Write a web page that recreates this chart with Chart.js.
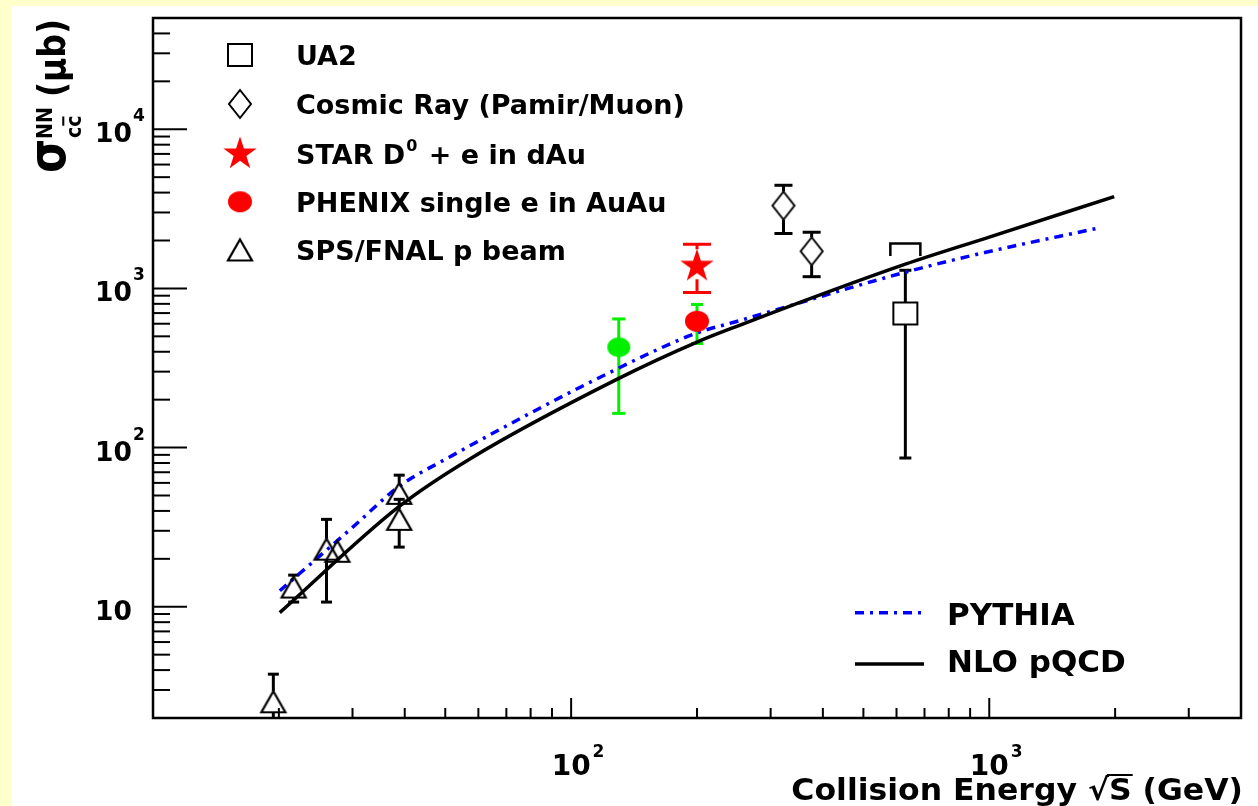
<!DOCTYPE html>
<html>
<head>
<meta charset="utf-8">
<script src="https://cdn.jsdelivr.net/npm/chart.js@4.4.1/dist/chart.umd.min.js"></script>
<style>
  html, body { margin: 0; padding: 0; background: #ffffff; overflow: hidden; }
  canvas { display: block; }
</style>
</head>
<body>
<canvas id="c" width="1258" height="806"></canvas>
<script>
// Charm production cross section per NN collision versus collision energy (sqrt s, GeV; sigma in microbarn)

// UA2 (p pbar)
const ua2Energy = [630];
const ua2Sigma = [696];
const ua2Low = [86];
const ua2High = [1300];
const ua2SysHigh = [1914];

// Cosmic ray (Pamir / Muon)
const cosmicEnergy = [322, 376];
const cosmicSigma = [3315, 1712];
const cosmicLow = [2213, 1185];
const cosmicHigh = [4446, 2254];

// STAR D0 + e in dAu
const starEnergy = [200];
const starSigma = [1377];
const starLow = [943];
const starHigh = [1894];

// PHENIX single e in AuAu, 200 GeV
const phenixEnergy = [200];
const phenixSigma = [622];
const phenixLow = [451];
const phenixHigh = [793];

// PHENIX single e in AuAu, 130 GeV
const phenix130Energy = [130];
const phenix130Sigma = [427];
const phenix130Low = [164];
const phenix130High = [643];

// SPS / FNAL p beam
const spsEnergy = [19.4, 21.7, 26.0, 27.6, 38.8, 38.8];
const spsSigma = [2.53, 13.3, 23.0, 22.3, 51.6, 35.4];
const spsLow = [1.5, 10.7, 10.7, 21.0, 47.3, 23.7];
const spsHigh = [3.77, 15.8, 35.4, 23.6, 67.1, 47.3];

// Theory curves
const nloEnergy = [20.1, 38.8, 57, 130, 200, 250, 630, 1000, 1990];
const nloSigma = [9.19, 42.7, 84.3, 272, 460, 580, 1420, 2102, 3776];
const pythiaEnergy = [20.1, 30, 38.8, 50, 130, 200, 250, 630, 975, 1800];
const pythiaSigma = [12.6, 31.5, 57.1, 84.3, 316, 525, 622, 1264, 1680, 2377];

// Axis labels
const yTickValues = [10, 100, 1000, 10000];
const yTickExponents = ['', '2', '3', '4'];
const xTickValues = [100, 1000];
const xTickExponents = ['2', '3'];
const xTitle = ['Collision Energy ', '\u221A', 'S', ' (GeV)'];
const yTitle = ['\u03C3', 'NN', 'cc', '(\u03BCb)'];

const FONT = '"DejaVu Sans", "Liberation Sans", sans-serif';
const font = (px) => 'bold ' + px + 'px ' + FONT;
const pts = (xs, ys) => xs.map((x, i) => ({ x: x, y: ys[i] }));

// ---- marker images ----
function markerCanvas(w, h, draw) {
  const c = document.createElement('canvas');
  c.width = Math.ceil(w + 6);
  c.height = Math.ceil(h + 6);
  const g = c.getContext('2d');
  g.translate(c.width / 2, c.height / 2);
  draw(g, w / 2, h / 2);
  return c;
}
const markers = {
  square: markerCanvas(24, 22, (g, hw, hh) => {
    g.strokeStyle = '#000'; g.lineWidth = 2;
    g.strokeRect(-hw, -hh, 2 * hw, 2 * hh);
  }),
  diamond: markerCanvas(22, 28, (g, hw, hh) => {
    g.strokeStyle = '#000'; g.lineWidth = 2; g.lineJoin = 'miter';
    g.beginPath(); g.moveTo(0, -hh); g.lineTo(hw, 0); g.lineTo(0, hh); g.lineTo(-hw, 0); g.closePath(); g.stroke();
  }),
  triangle: markerCanvas(24, 21, (g, hw, hh) => {
    g.strokeStyle = '#000'; g.lineWidth = 2.2; g.lineJoin = 'miter';
    g.beginPath(); g.moveTo(0, -hh); g.lineTo(hw, hh); g.lineTo(-hw, hh); g.closePath(); g.stroke();
  }),
  redDot: markerCanvas(24, 21, (g, hw, hh) => {
    g.fillStyle = '#ff0000';
    g.beginPath(); g.ellipse(0, 0, hw, hh, 0, 0, Math.PI * 2); g.fill();
  }),
  greenDot: markerCanvas(23, 20, (g, hw, hh) => {
    g.fillStyle = '#00f000';
    g.beginPath(); g.ellipse(0, 0, hw, hh, 0, 0, Math.PI * 2); g.fill();
  }),
  star: markerCanvas(36, 36, (g) => {
    const R = 17.5, r = R * 0.382;
    g.fillStyle = '#ff0000';
    g.beginPath();
    for (let i = 0; i < 10; i++) {
      const rad = (i % 2 === 0) ? R : r;
      const ang = -Math.PI / 2 + i * Math.PI / 5;
      const px = rad * Math.cos(ang), py = rad * Math.sin(ang);
      if (i === 0) g.moveTo(px, py); else g.lineTo(px, py);
    }
    g.closePath(); g.fill();
  })
};

// ---- error bar sets ----
const errorSets = [
  { xs: spsEnergy, ys: spsSigma, lo: spsLow, hi: spsHigh, color: '#000', cap: 5.5, gapUp: 10.5, gapDown: 10.5 },
  { xs: ua2Energy, ys: ua2Sigma, lo: ua2Low, hi: ua2High, color: '#000', cap: 6, gapUp: 11, gapDown: 11 },
  { xs: cosmicEnergy, ys: cosmicSigma, lo: cosmicLow, hi: cosmicHigh, color: '#000', cap: 9, gapUp: 14, gapDown: 14 },
  { xs: starEnergy, ys: starSigma, lo: starLow, hi: starHigh, color: '#ff0000', cap: 14, gapUp: 17, gapDown: 13 },
  { xs: phenixEnergy, ys: phenixSigma, lo: phenixLow, hi: phenixHigh, color: '#00f000', cap: 6, gapUp: 0, gapDown: 0 },
  { xs: phenix130Energy, ys: phenix130Sigma, lo: phenix130Low, hi: phenix130High, color: '#00f000', cap: 6.5, gapUp: 0, gapDown: 0 }
];

function line(ctx, x1, y1, x2, y2) {
  ctx.beginPath(); ctx.moveTo(x1, y1); ctx.lineTo(x2, y2); ctx.stroke();
}

// text made of pieces: {t, size, dy, after}
function drawPieces(ctx, pieces, x, baseline) {
  let cx = x;
  pieces.forEach(p => {
    ctx.font = font(p.size);
    ctx.fillText(p.t, cx, baseline + (p.dy || 0));
    cx += ctx.measureText(p.t).width + (p.after || 0);
  });
  return cx;
}

const decor = {
  id: 'decor',
  beforeDraw(chart) {
    const { ctx, width, height } = chart;
    ctx.save();
    ctx.fillStyle = '#ffffff';
    ctx.fillRect(0, 0, width, height);
    ctx.fillStyle = '#ffffcc';
    ctx.fillRect(0, 0, 11, height);
    ctx.fillRect(0, 0, width, 6);
    ctx.restore();
  },
  beforeDatasetsDraw(chart) {
    const { ctx, chartArea: a } = chart;
    const sx = chart.scales.x, sy = chart.scales.y;
    ctx.save();
    ctx.beginPath(); ctx.rect(a.left, a.top, a.right - a.left, a.bottom - a.top); ctx.clip();
    ctx.lineWidth = 3; ctx.lineCap = 'butt';
    errorSets.forEach(s => {
      ctx.strokeStyle = s.color;
      s.xs.forEach((xv, i) => {
        const px = sx.getPixelForValue(xv);
        const py = sy.getPixelForValue(s.ys[i]);
        const ph = sy.getPixelForValue(s.hi[i]);
        const pl = sy.getPixelForValue(s.lo[i]);
        if (ph < py - s.gapUp) {
          line(ctx, px, py - s.gapUp, px, ph);
          line(ctx, px - s.cap, ph, px + s.cap, ph);
        }
        if (pl > py + s.gapDown) {
          line(ctx, px, py + s.gapDown, px, pl);
          line(ctx, px - s.cap, pl, px + s.cap, pl);
        }
      });
    });
    // UA2 systematic bracket
    ctx.strokeStyle = '#000'; ctx.lineWidth = 2.5;
    ua2Energy.forEach((xv, i) => {
      const px = sx.getPixelForValue(xv);
      const ps = sy.getPixelForValue(ua2SysHigh[i]);
      ctx.beginPath();
      ctx.moveTo(px - 15, ps + 12.5); ctx.lineTo(px - 15, ps); ctx.lineTo(px + 15, ps); ctx.lineTo(px + 15, ps + 12.5);
      ctx.stroke();
    });
    ctx.restore();
  },
  afterDatasetsDraw(chart) {
    const { ctx, chartArea: a } = chart;
    const sx = chart.scales.x, sy = chart.scales.y;
    ctx.save();
    ctx.fillStyle = '#000'; ctx.strokeStyle = '#000';

    // frame
    ctx.lineWidth = 2.5;
    ctx.strokeRect(a.left, a.top, a.right - a.left, a.bottom - a.top);

    // y ticks (inside, left)
    ctx.lineWidth = 2;
    for (let e = 0; e <= 4; e++) {
      for (let k = 1; k <= 9; k++) {
        const v = k * Math.pow(10, e);
        if (v <= sy.min || v >= sy.max) continue;
        const py = sy.getPixelForValue(v);
        line(ctx, a.left, py, a.left + (k === 1 ? 34 : 17), py);
      }
    }
    // x ticks (inside, bottom)
    for (let e = 1; e <= 3; e++) {
      for (let k = 1; k <= 9; k++) {
        const v = k * Math.pow(10, e);
        if (v <= sx.min || v >= sx.max) continue;
        const px = sx.getPixelForValue(v);
        line(ctx, px, a.bottom, px, a.bottom - (k === 1 ? 20 : 10));
      }
    }

    // y tick labels
    ctx.textAlign = 'left'; ctx.textBaseline = 'alphabetic';
    yTickValues.forEach((v, i) => {
      const py = sy.getPixelForValue(v);
      ctx.font = font(26.5);
      ctx.fillText('10', 95, py + 13);
      const w = ctx.measureText('10').width;
      if (yTickExponents[i]) {
        ctx.font = font(17);
        ctx.fillText(yTickExponents[i], 95 + w + 1, py - 8);
      }
    });
    // x tick labels
    xTickValues.forEach((v, i) => {
      const px = sx.getPixelForValue(v);
      ctx.font = font(28);
      const w = ctx.measureText('10').width;
      ctx.fillText('10', px - w / 2, 775);
      ctx.font = font(17);
      ctx.fillText(xTickExponents[i], px + w / 2 + 2, 757);
    });

    // x title, right-aligned, slightly widened
    ctx.save();
    ctx.translate(1243, 800);
    ctx.scale(1.05, 1);
    ctx.font = font(30);
    const tw = xTitle.reduce((s, t) => s + ctx.measureText(t).width, 0);
    let tx = -tw;
    ctx.fillText(xTitle[0], tx, 0); tx += ctx.measureText(xTitle[0]).width;
    const sq = ctx.measureText(xTitle[1]);
    ctx.fillText(xTitle[1], tx, 0);
    const sqTop = -sq.actualBoundingBoxAscent;
    const sqEnd = tx + sq.width;
    tx = sqEnd;
    ctx.fillText(xTitle[2], tx, 0);
    const sEnd = tx + ctx.measureText(xTitle[2]).width;
    ctx.lineWidth = 2;
    line(ctx, sqEnd - 2, sqTop + 1, sEnd + 1, sqTop + 1);
    tx = sEnd;
    ctx.fillText(xTitle[3], tx, 0);
    ctx.restore();

    // y title, rotated and slightly widened
    ctx.save();
    ctx.translate(65, 173);
    ctx.scale(1.15, 1);
    ctx.rotate(-Math.PI / 2);
    ctx.font = font(44);
    ctx.fillText(yTitle[0], 0, 0);
    ctx.font = font(19);
    ctx.fillText(yTitle[1], 34, -11.5);
    ctx.fillText(yTitle[2], 35, 13.5);
    const cw = ctx.measureText('c').width;
    ctx.lineWidth = 1.8;
    line(ctx, 35 + cw + 1, 13.5 - 15, 35 + 2 * cw - 1, 13.5 - 15);
    ctx.font = font(33);
    ctx.fillText(yTitle[3], 76, 0);
    ctx.restore();

    // legend: data sets
    const rows = [
      { m: markers.square, y: 55, text: [{ t: 'UA2', size: 27 }] },
      { m: markers.diamond, y: 104, text: [{ t: 'Cosmic Ray (Pamir/Muon)', size: 27 }] },
      { m: markers.star, y: 154, text: [{ t: 'STAR D', size: 27, after: 1 }, { t: '0', size: 16, dy: -13, after: 2 }, { t: ' + e in dAu', size: 27 }] },
      { m: markers.redDot, y: 201.7, text: [{ t: 'PHENIX single e in AuAu', size: 27 }] },
      { m: markers.triangle, y: 250, text: [{ t: 'SPS/FNAL p beam', size: 27 }] }
    ];
    ctx.fillStyle = '#000';
    rows.forEach(r => {
      ctx.drawImage(r.m, 240 - r.m.width / 2, r.y - r.m.height / 2);
      drawPieces(ctx, r.text, 296, r.y + 9.8);
    });

    // legend: curves
    ctx.lineWidth = 3.5;
    ctx.strokeStyle = '#0000ff';
    ctx.setLineDash([9, 6, 3, 6]);
    line(ctx, 855, 612.7, 921, 612.7);
    ctx.setLineDash([]);
    ctx.strokeStyle = '#000';
    line(ctx, 855, 664, 924, 664);
    ctx.font = font(31);
    ctx.fillText('PYTHIA', 947, 625);
    ctx.fillText('NLO pQCD', 947, 672);

    ctx.restore();
  }
};

const curveStyle = { showLine: true, pointRadius: 0, borderWidth: 3.5, cubicInterpolationMode: 'monotone', fill: false };

new Chart(document.getElementById('c'), {
  type: 'scatter',
  data: {
    datasets: [
      { label: 'UA2', data: pts(ua2Energy, ua2Sigma), pointStyle: markers.square, pointRadius: 12 },
      { label: 'Cosmic Ray (Pamir/Muon)', data: pts(cosmicEnergy, cosmicSigma), pointStyle: markers.diamond, pointRadius: 12 },
      { label: 'STAR D0 + e in dAu', data: pts(starEnergy, starSigma), pointStyle: markers.star, pointRadius: 16 },
      { label: 'PHENIX single e in AuAu', data: pts(phenixEnergy, phenixSigma), pointStyle: markers.redDot, pointRadius: 12 },
      { label: 'PHENIX single e in AuAu (130 GeV)', data: pts(phenix130Energy, phenix130Sigma), pointStyle: markers.greenDot, pointRadius: 12 },
      { label: 'SPS/FNAL p beam', data: pts(spsEnergy, spsSigma), pointStyle: markers.triangle, pointRadius: 12 },
      Object.assign({ label: 'NLO pQCD', data: pts(nloEnergy, nloSigma), borderColor: '#000000' }, curveStyle),
      Object.assign({ label: 'PYTHIA', data: pts(pythiaEnergy, pythiaSigma), borderColor: '#0000ff', borderDash: [9, 6, 3, 6] }, curveStyle)
    ]
  },
  options: {
    responsive: false,
    devicePixelRatio: 1,
    animation: false,
    events: [],
    layout: { padding: { left: 153, top: 18, right: 12, bottom: 88 } },
    scales: {
      x: { type: 'logarithmic', min: 10, max: 4000, display: false },
      y: { type: 'logarithmic', min: 2, max: 50000, display: false }
    },
    plugins: { legend: { display: false }, tooltip: { enabled: false } }
  },
  plugins: [decor]
});
</script>
</body>
</html>
